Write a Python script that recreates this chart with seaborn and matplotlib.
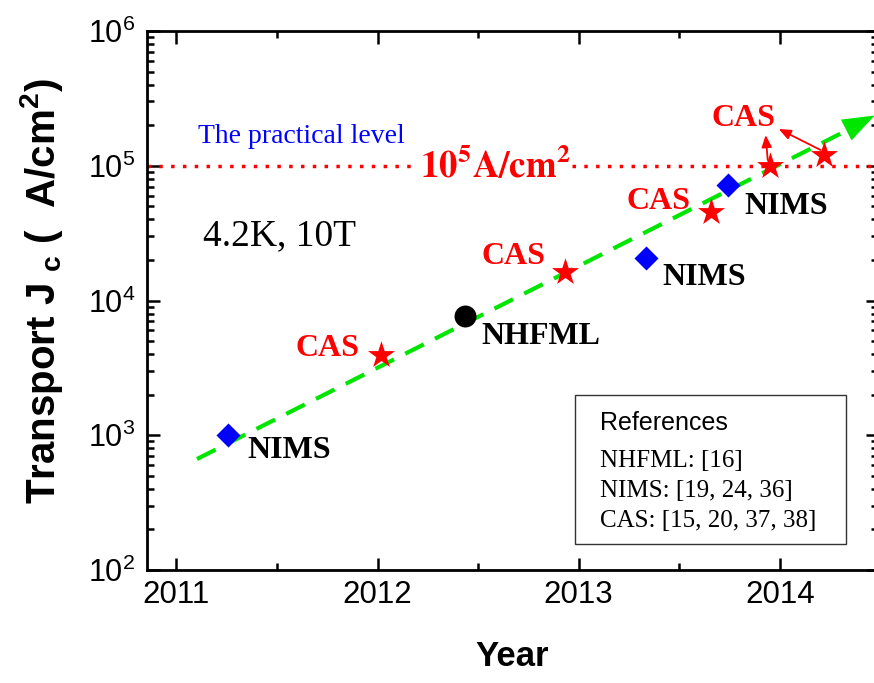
import numpy as np
import pandas as pd
import matplotlib
matplotlib.use("Agg")
import matplotlib.pyplot as plt
import matplotlib.ticker as mticker
from matplotlib.patches import Rectangle
import seaborn as sns

# ---------------- data ----------------
nims_year = [2011.257, 2013.337, 2013.743]
nims_jc = [1000, 20780, 71950]
nhfml_year = [2012.434]
nhfml_jc = [7670]
cas_year = [2012.016, 2012.931, 2013.660, 2013.950, 2014.218]
cas_jc = [3940, 16360, 45600, 99600, 120200]
trend_year = [2011.102, 2014.440]
trend_jc = [666, 2.20e5]
practical_level = 1e5
x_ticks = [2011, 2012, 2013, 2014]
y_ticks = [1e2, 1e3, 1e4, 1e5, 1e6]

sns.set_theme(style="ticks")
plt.rcParams["font.family"] = ["Liberation Sans", "DejaVu Sans"]
plt.rcParams["mathtext.fontset"] = "custom"
plt.rcParams["mathtext.rm"] = "Liberation Sans"
plt.rcParams["mathtext.it"] = "Liberation Sans:italic"
plt.rcParams["mathtext.bf"] = "Liberation Sans:bold"
for k in ["text.color", "axes.labelcolor", "xtick.color", "ytick.color",
          "xtick.labelcolor", "ytick.labelcolor", "axes.edgecolor"]:
    plt.rcParams[k] = "black"

SERIF = ["Liberation Serif", "DejaVu Serif"]
GREEN = "#00e600"

fig = plt.figure(figsize=(8.74, 6.83), dpi=100)
ax = fig.add_axes([146.7 / 874, (683 - 570) / 683, 731.6 / 874, 539 / 683])
ax.set_yscale("log")
ax.set_xlim(2010.852, 2014.49)
ax.set_ylim(1e2, 1e6)

# practical level line
ax.axhline(practical_level, color="red", lw=2.5, linestyle=(0, (1, 2.4)), zorder=1)

# trend line
trend_df = pd.DataFrame({"year": trend_year, "jc": trend_jc})
sns.lineplot(data=trend_df, x="year", y="jc", ax=ax, color=GREEN, lw=3,
             zorder=2, estimator=None, sort=False)
ax.lines[-1].set_linestyle((0, (5, 3)))
ax.lines[-1].set_dash_capstyle("butt")
ax.annotate("", xy=(2014.472, 2.36e5), xytext=(2014.36, 1.94e5),
            arrowprops=dict(arrowstyle="-|>,head_length=1.15,head_width=0.42",
                            mutation_scale=20, color=GREEN, lw=0,
                            shrinkA=0, shrinkB=0), zorder=3)

# markers
sns.scatterplot(x=nims_year, y=nims_jc, marker="D", s=150, color="blue",
                edgecolor="blue", linewidth=0, ax=ax, zorder=4)
sns.scatterplot(x=nhfml_year, y=nhfml_jc, marker="o", s=250, color="black",
                edgecolor="black", linewidth=0, ax=ax, zorder=4)
sns.scatterplot(x=cas_year, y=cas_jc, marker="*", s=420, color="red",
                edgecolor="red", linewidth=0, ax=ax, zorder=4)

# labels
lab_kw = dict(fontsize=23, fontweight="bold", family=SERIF, va="center", ha="left")
ax.text(2011.355, 777, "NIMS", color="black", **lab_kw)
ax.text(2013.414, 14940, "NIMS", color="black", **lab_kw)
ax.text(2013.826, 50230, "NIMS", color="black", **lab_kw)
ax.text(2012.518, 5450, "NHFML", color="black", **lab_kw)
ax.text(2011.594, 4440, "CAS", color="red", **lab_kw)
ax.text(2012.518, 21380, "CAS", color="red", **lab_kw)
ax.text(2013.239, 54080, "CAS", color="red", **lab_kw)
ax.text(2013.662, 222300, "CAS", color="red", **lab_kw)

arrow_kw = dict(arrowstyle="-|>,head_length=0.6,head_width=0.25", color="red",
                lw=1.3, mutation_scale=12, shrinkA=0, shrinkB=0)
ax.annotate("", xy=(2013.930, 1.69e5), xytext=(2013.940, 1.103e5), arrowprops=arrow_kw)
ax.annotate("", xy=(2013.995, 1.874e5), xytext=(2014.203, 1.309e5), arrowprops=arrow_kw)

ax.text(2012.21, 81100, r"$\mathbf{10^5A/cm^2}$", color="red", fontsize=26.5,
        math_fontfamily="stix", va="baseline", ha="left", zorder=2,
        bbox=dict(facecolor="white", edgecolor="none", pad=1))
ax.text(2011.107, 147600, "The practical level", color="blue", fontsize=20,
        family=SERIF, va="baseline", ha="left")
ax.text(2011.132, 25830, "4.2K, 10T", color="black", fontsize=27,
        family=SERIF, va="baseline", ha="left")

# reference box
ax.add_patch(Rectangle((0.5854, 0.0482), 0.9558 - 0.5854, 0.3247 - 0.0482,
                       transform=ax.transAxes, facecolor="white",
                       edgecolor="#333333", lw=1.0, zorder=5))
ax.text(0.6196, 0.2597, "References", transform=ax.transAxes, fontsize=18,
        va="baseline", ha="left", zorder=6)
ref_lines = ["NHFML: [16]", "NIMS: [19, 24, 36]", "CAS: [15, 20, 37, 38]"]
for yy, t in zip([0.1911, 0.1354, 0.0798], ref_lines):
    ax.text(0.6196, yy, t, transform=ax.transAxes, fontsize=18, family=SERIF,
            va="baseline", ha="left", zorder=6)

# axes styling
ax.set_xticks(x_ticks)
ax.set_xticklabels([str(v) for v in x_ticks])
ax.xaxis.set_minor_locator(mticker.MultipleLocator(0.5))
ax.set_yticks(y_ticks)
ax.yaxis.set_minor_locator(mticker.LogLocator(base=10, subs=np.arange(2, 10)))
ax.yaxis.set_minor_formatter(mticker.NullFormatter())
ax.tick_params(which="both", direction="in", top=True, right=True, width=1.8,
               color="black", labelcolor="black")
ax.tick_params(which="major", length=9)
ax.tick_params(which="minor", length=5)
ax.tick_params(axis="x", which="major", labelsize=22.5, pad=7)
ax.tick_params(axis="y", which="major", labelsize=22, pad=8)
for sp in ax.spines.values():
    sp.set_linewidth(2.0)
    sp.set_color("black")

ax.set_xlabel("Year", fontsize=25, fontweight="bold", labelpad=22, color="black")
ax.set_ylabel(r"Transport J $_{\mathbf{c}}$ (  A/cm$^{\mathbf{2}}$)", fontsize=29,
              fontweight="bold", color="black")
ax.yaxis.set_label_coords(-0.111, 0.517)

fig.savefig("out.png", dpi=100)
